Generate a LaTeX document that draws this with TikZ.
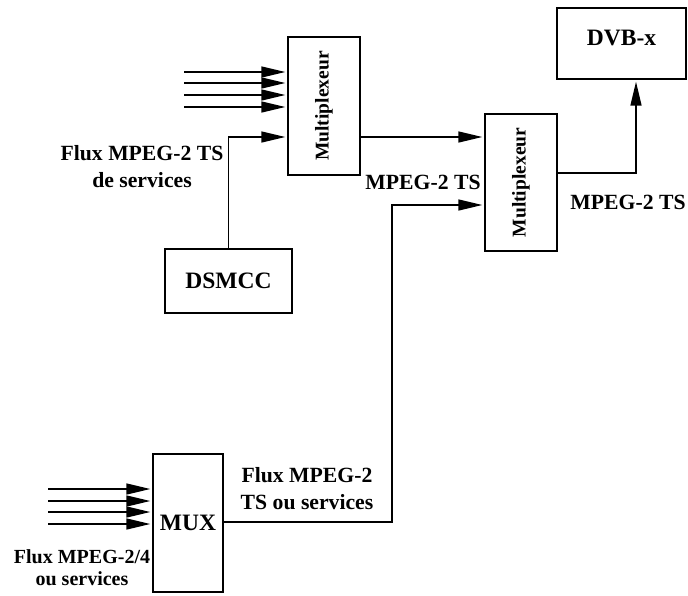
\documentclass[tikz,border=0pt]{standalone}
\usepackage{fontspec}
\setmainfont{Liberation Serif}
\usetikzlibrary{arrows.meta,calc}
\begin{document}
\begin{tikzpicture}[x=1pt,y=-1pt,
  box/.style={draw,line width=2.4pt,inner sep=0pt,font=\fontsize{23.5}{26}\selectfont\bfseries},
  muxbox/.style={box,minimum width=72pt,minimum height=138pt},
  lbl/.style={font=\fontsize{21.7}{27}\selectfont\bfseries,align=center,inner sep=0pt},
  arr/.style={line width=1.5pt,shorten >=1.5pt,-{Triangle[length=24pt,width=11pt]}},
  wire/.style={line width=1.5pt}]
\useasboundingbox (0,0) rectangle (688,595);

% blocks
\node[muxbox] (mux1) at (324,106) {};
\node[rotate=90,font=\fontsize{19.5}{22}\selectfont\bfseries] at (mux1.center) {Multiplexeur};
\node[muxbox,minimum height=137pt] (mux2) at (521,182.5) {};
\node[rotate=90,font=\fontsize{19.5}{22}\selectfont\bfseries] at (mux2.center) {Multiplexeur};
\node[box,minimum width=129pt,minimum height=71pt] (dvb) at (621.5,43.5) {};
\node[font=\fontsize{23.5}{26}\selectfont\bfseries] at (621.5,38) {DVB-x};
\node[box,minimum width=127pt,minimum height=64pt] (dsmcc) at (228.5,281) {DSMCC};
\node[box,minimum width=70pt,minimum height=138pt] (mux) at (188,523) {};
\node[font=\fontsize{23.5}{26}\selectfont\bfseries] at (188,523) {MUX};

% input streams of the first multiplexer
\foreach \y [count=\i] in {72,83,95,107} {
  \coordinate (ia\i) at (184,\y);
  \draw[arr] (ia\i) -- (ia\i -| mux1.west);
}
% input streams of the MUX
\foreach \y [count=\i] in {489,501,512,524} {
  \coordinate (ib\i) at (48,\y);
  \draw[arr] (ib\i) -- (ib\i -| mux.west);
}

% DSMCC into the first multiplexer
\coordinate (dsin) at (228,137);
\draw[arr] (dsmcc.north) |- (dsin -| mux1.west);
% first multiplexer into the second
\coordinate (m1out) at (360,137);
\draw[arr] (m1out -| mux1.east) -- (m1out -| mux2.west);
% MUX into the second multiplexer
\coordinate (muxout) at (224,522);
\coordinate (bend) at (392,205);
\draw[arr] (muxout -| mux.east) -| (bend) -- (bend -| mux2.west);
% second multiplexer to DVB-x
\coordinate (m2out) at (557,173);
\coordinate (dvbin) at (636,79);
\draw[arr] (m2out -| mux2.east) -| (dvbin |- dvb.south);

% labels
\node[lbl] (l1) at (142,167) {Flux MPEG-2 TS\\de services};
\node[lbl] (l2) at (423,182) {MPEG-2 TS};
\node[lbl] (l3) at (628,202) {MPEG-2 TS};
\node[lbl] (l4) at (307,489) {Flux MPEG-2\\TS ou services};
\node[lbl,font=\fontsize{20}{22}\selectfont\bfseries] (l5) at (82,568) {Flux MPEG-2/4\\ou services};
\end{tikzpicture}
\end{document}
